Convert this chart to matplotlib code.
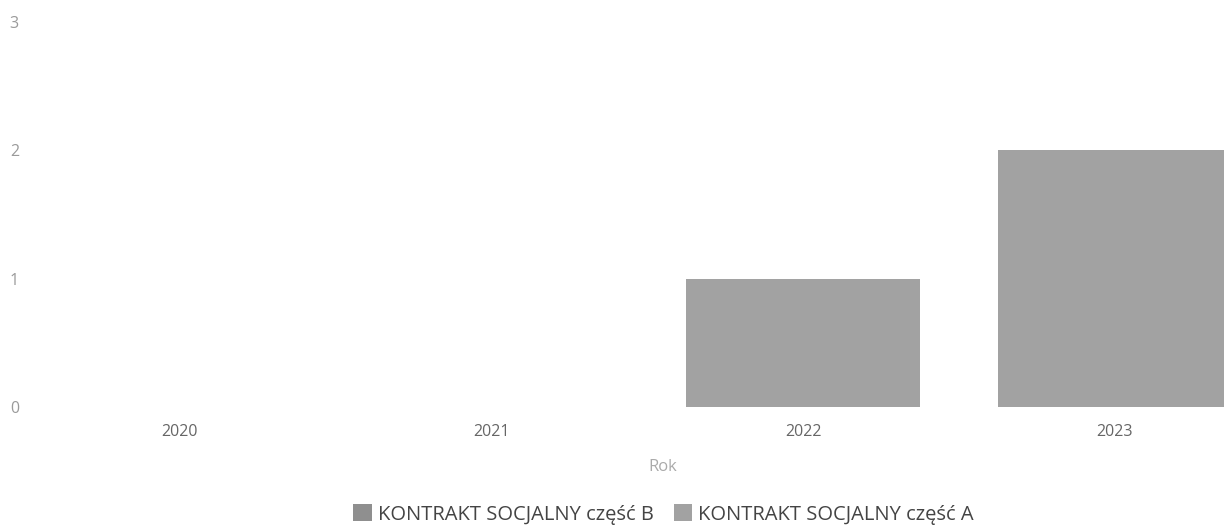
import numpy as np
import matplotlib
matplotlib.use("Agg")
import matplotlib.pyplot as plt

# data
years = ["2020", "2021", "2022", "2023"]
part_b = [0, 0, 0, 0]
part_a = [0, 0, 1, 2]
series_names = ["KONTRAKT SOCJALNY część B", "KONTRAKT SOCJALNY część A"]
y_ticks = [0, 1, 2, 3]

plt.rcParams['font.family'] = ['Open Sans', 'DejaVu Sans']

fig = plt.figure(figsize=(12.24, 5.26), dpi=100)
ax = fig.add_axes([0.0245, 0.226, 0.9755, 0.755])

x = np.arange(len(years))
width = 0.75
ax.bar(x, part_b, width, color='#8f8f8f', edgecolor='none',
       label=series_names[0])
ax.bar(x, part_a, width, bottom=part_b, color='#a2a2a2', edgecolor='none',
       label=series_names[1])

ax.set_xlim(-0.48, 3.35)
ax.set_ylim(0, 3.094)
ax.set_xticks(x)
ax.set_xticklabels(years, fontsize=11.5, color='#666666')
ax.set_yticks(y_ticks)
ax.set_yticklabels([str(t) for t in y_ticks], fontsize=11.5, color='#9a9a9a')
ax.tick_params(axis='both', length=0)
ax.tick_params(axis='x', pad=12)
ax.tick_params(axis='y', pad=8)
for s in ax.spines.values():
    s.set_visible(False)
ax.set_xlabel("Rok", fontsize=12, color='#aaaaaa')
ax.xaxis.set_label_coords(0.53, -0.13)

fig.legend(loc='lower center', bbox_to_anchor=(0.542, -0.032), ncol=2,
           frameon=False, fontsize=14.5, labelcolor='#444444',
           handlelength=0.9, handleheight=0.9, handletextpad=0.3,
           columnspacing=1.0)

fig.savefig("out.png", dpi=100)
